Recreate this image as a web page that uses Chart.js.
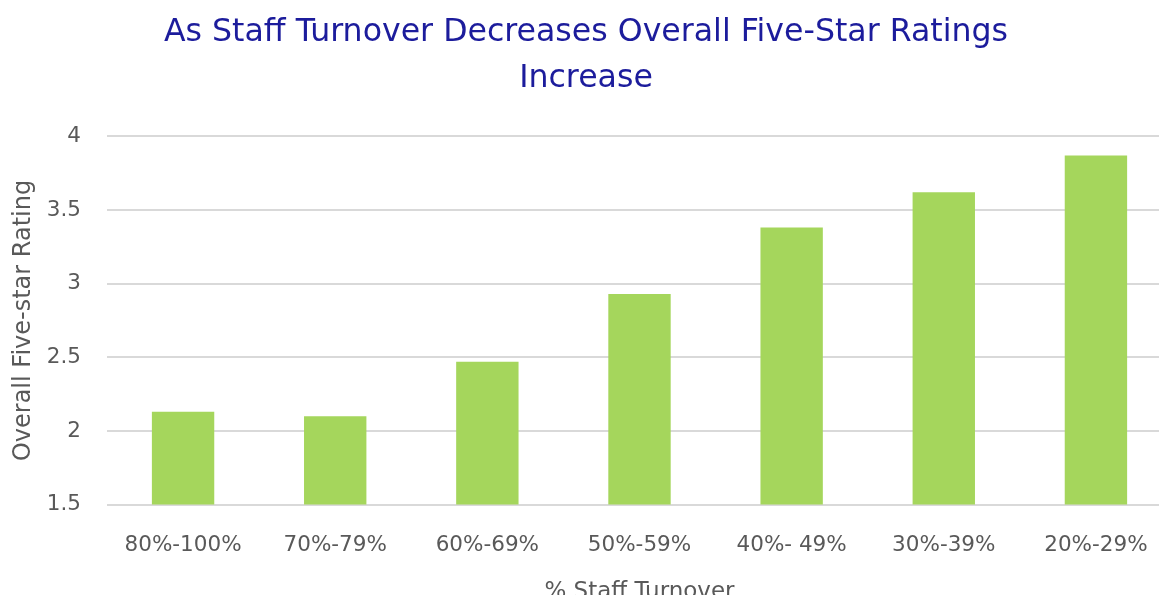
<!DOCTYPE html>
<html lang="en">
<head>
<meta charset="UTF-8">
<title>Staff Turnover vs Five-Star Ratings</title>
<script src="https://cdn.jsdelivr.net/npm/chart.js@4.4.0/dist/chart.umd.min.js"></script>
<style>
  * { margin:0; padding:0; box-sizing:border-box; }
  body { background:#fff; width:1159px; height:595px; overflow:hidden; }
  .wrap { width:1172px; height:606px; position:relative; }
</style>
</head>
<body>
<div class="wrap"><canvas id="chart"></canvas></div>
<script>
const categories = ['80%-100%', '70%-79%', '60%-69%', '50%-59%', '40%- 49%', '30%-39%', '20%-29%'];
const ratings = [2.13, 2.10, 2.47, 2.93, 3.38, 3.62, 3.87];

const font = "'DejaVu Sans', sans-serif";
const grey = '#595959';

new Chart(document.getElementById('chart'), {
  type: 'bar',
  data: {
    labels: categories,
    datasets: [{
      label: 'Overall Five-star Rating',
      data: ratings,
      backgroundColor: '#a5d65c',
      borderWidth: 0,
      categoryPercentage: 1,
      barPercentage: 0.41
    }]
  },
  options: {
    responsive: true,
    maintainAspectRatio: false,
    animation: false,
    layout: { padding: { left: 0, right: 0, top: 10, bottom: 0 } },
    plugins: {
      legend: { display: false },
      tooltip: { enabled: false },
      title: {
        display: true,
        text: ['As Staff Turnover Decreases Overall Five-Star Ratings', 'Increase'],
        color: '#1c1c9c',
        font: { family: font, size: 31.6, weight: 'normal', lineHeight: 1.46 },
        padding: { top: 0, bottom: 34 }
      }
    },
    scales: {
      x: {
        grid: { display: false },
        border: { display: false },
        ticks: { color: grey, font: { family: font, size: 21.5 }, padding: 20, maxRotation: 0 },
        title: { display: true, text: '% Staff Turnover', color: grey, font: { family: font, size: 23 }, padding: { top: 0, bottom: 0 } }
      },
      y: {
        min: 1.5,
        max: 4,
        afterFit: scale => { scale.width = 107; },
        grid: { color: '#d9d9d9', lineWidth: 2, drawTicks: false },
        border: { display: false },
        ticks: {
          stepSize: 0.5, color: grey, font: { family: font, size: 21.5 }, padding: 26,
          callback: v => String(Number(v))
        },
        title: { display: true, text: 'Overall Five-star Rating', color: grey, font: { family: font, size: 24 }, padding: { top: 9, bottom: 0 } }
      }
    }
  }
});
</script>
</body>
</html>
